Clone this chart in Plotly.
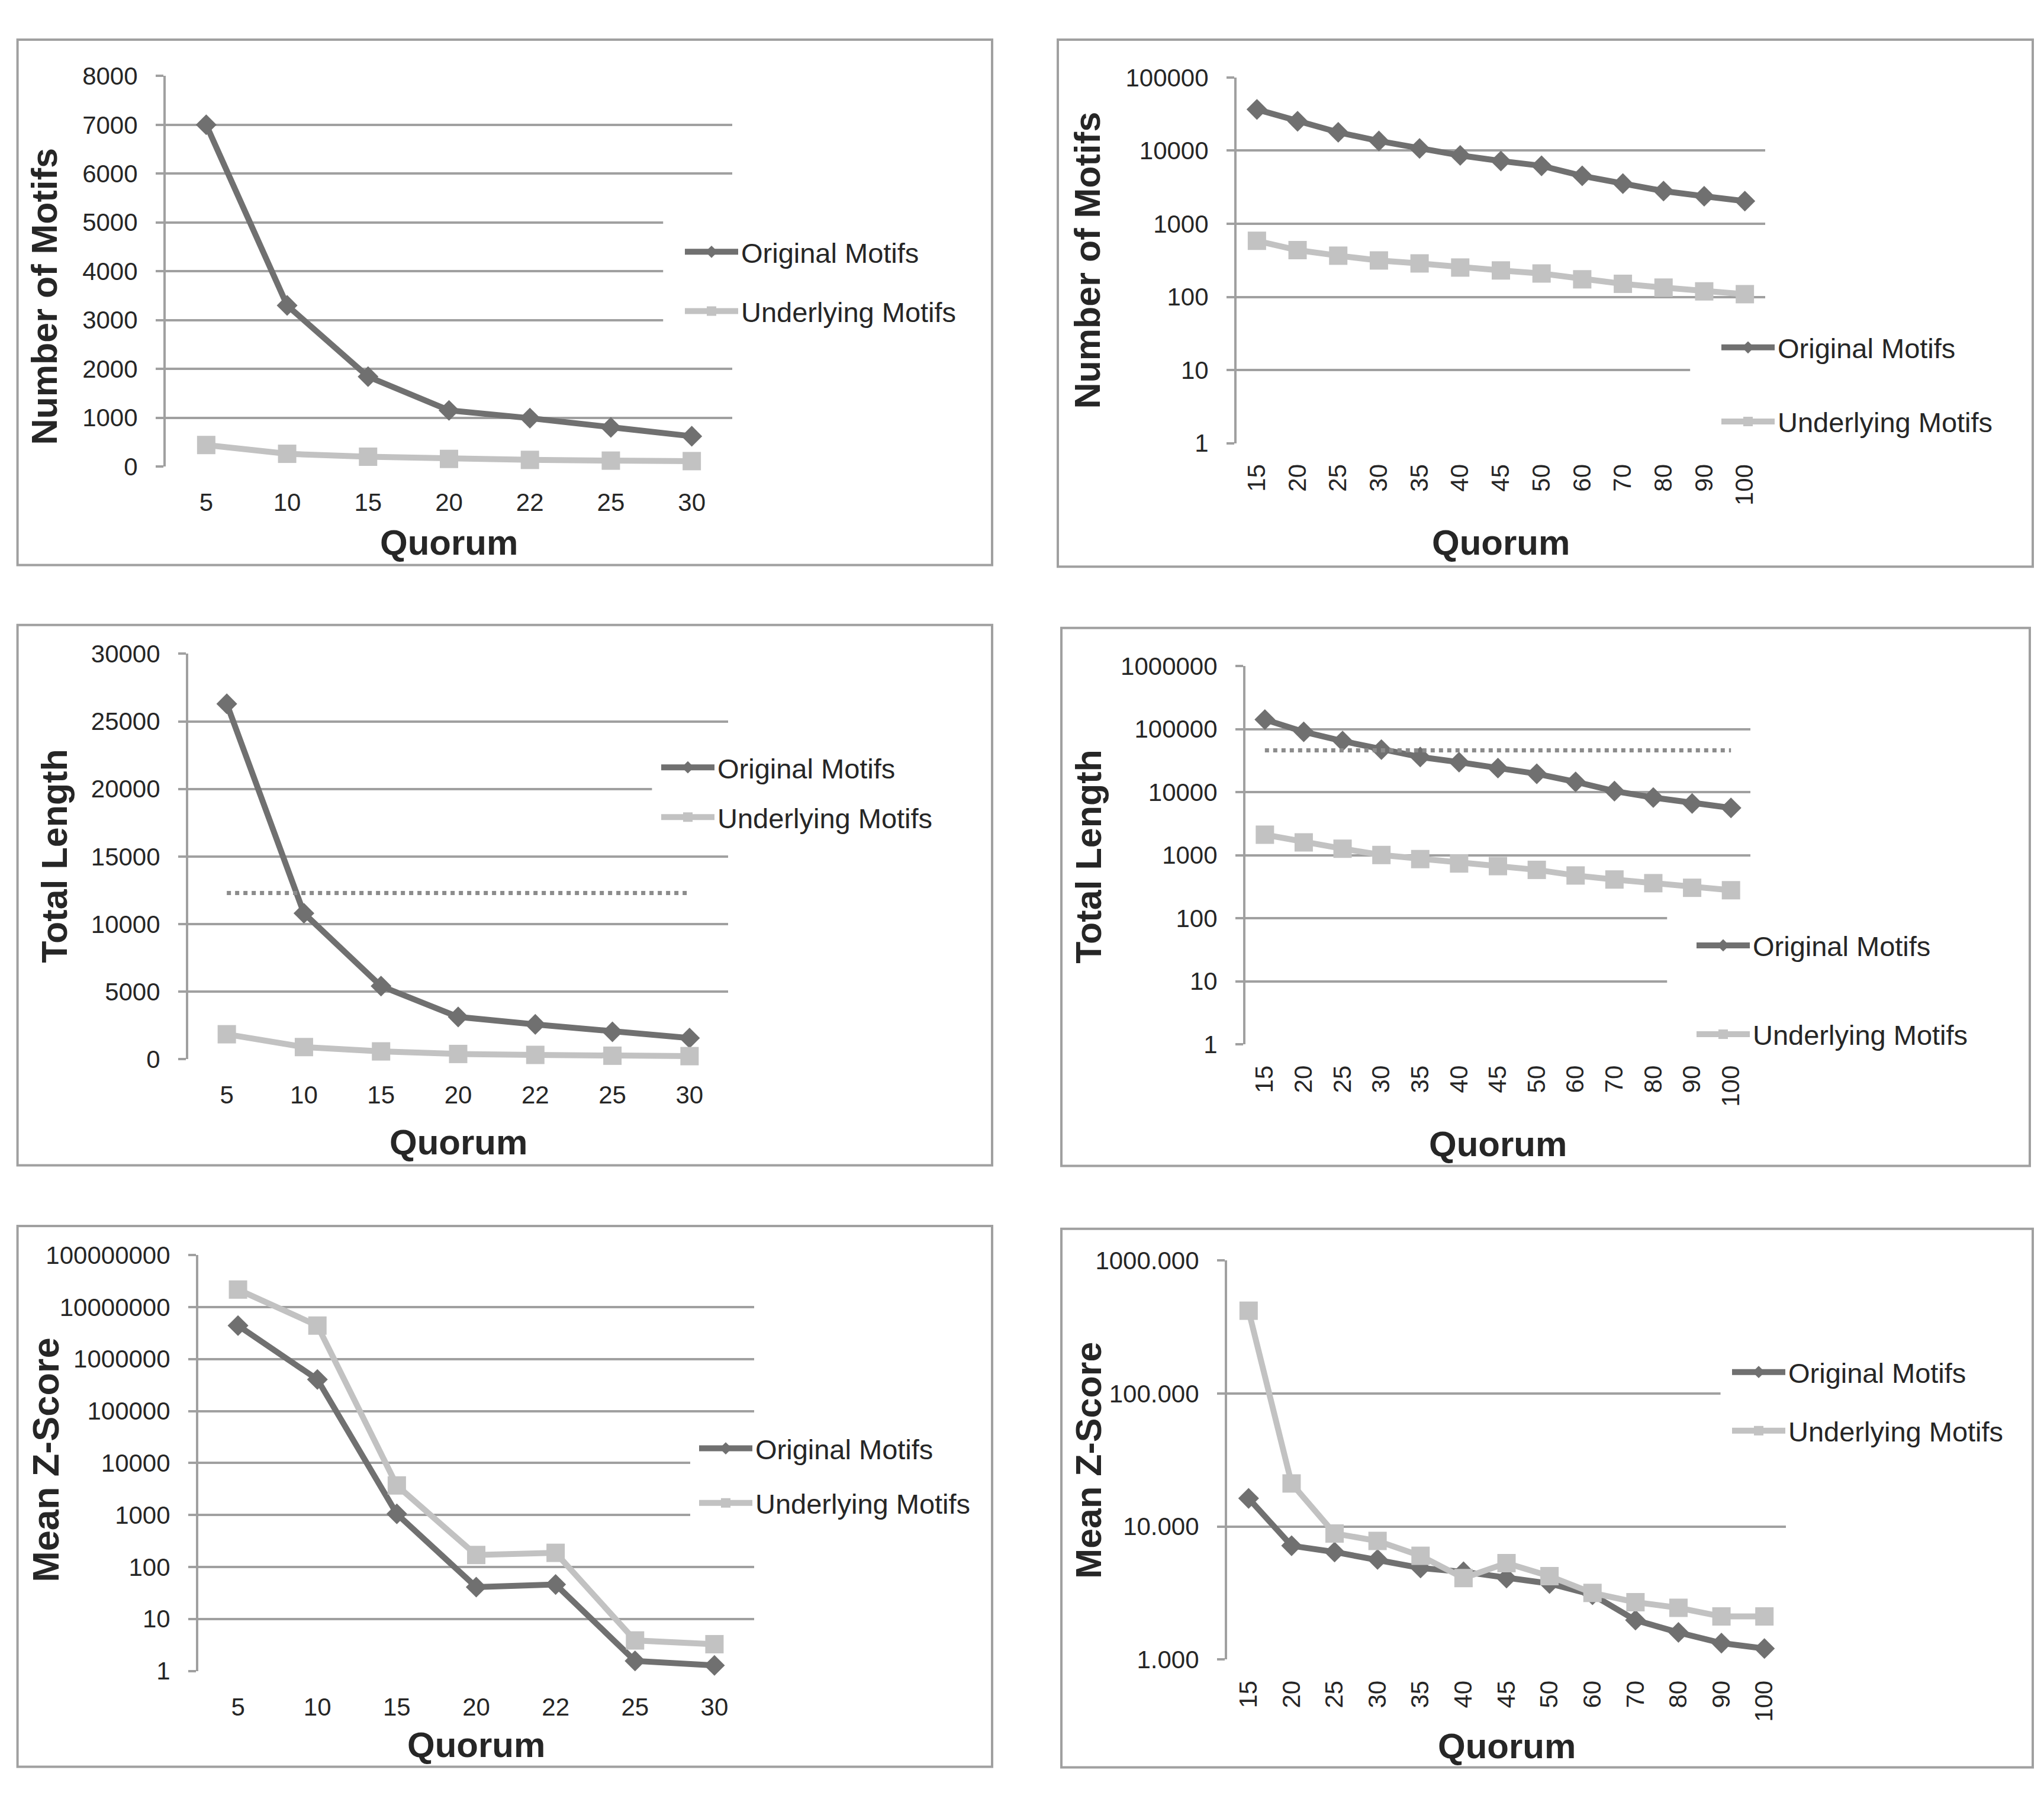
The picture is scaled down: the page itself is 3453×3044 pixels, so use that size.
import plotly.graph_objects as go

# ---------------- data ----------------
quorum_a = ["5", "10", "15", "20", "22", "25", "30"]
quorum_b = ["15", "20", "25", "30", "35", "40", "45", "50", "60", "70", "80", "90", "100"]

# Number of motifs
count_orig_a = [7000, 3300, 1840, 1150, 990, 800, 620]
count_under_a = [440, 260, 200, 155, 135, 120, 110]
count_orig_b = [36600, 25200, 17800, 13550, 10700, 8600, 7220, 6200, 4520, 3540, 2800, 2380, 2040]
count_under_b = [585, 436, 366, 315, 287, 252, 230, 209, 174, 151, 134, 119, 109]

# Total length
len_orig_a = [26300, 10800, 5410, 3130, 2580, 2030, 1565]
len_under_a = [1850, 900, 580, 390, 320, 260, 230]
len_ref_a = [12300, 12300, 12300, 12300, 12300, 12300, 12300]
len_orig_b = [142000, 90800, 64700, 47400, 36200, 29900, 24100, 19600, 14600, 10400, 8240, 6640, 5640]
len_under_b = [2120, 1600, 1270, 1010, 870, 741, 673, 587, 478, 413, 361, 305, 279]
len_ref_b = [46100] * 13

# Mean Z-score
z_orig_a = [4.4e6, 4.05e5, 1050, 41, 46, 1.56, 1.28]
z_under_a = [2.17e7, 4.4e6, 3700, 170, 187, 3.86, 3.27]
z_orig_b = [16.3, 7.18, 6.44, 5.66, 4.88, 4.57, 4.10, 3.73, 3.07, 1.98, 1.60, 1.33, 1.21]
z_under_b = [420, 21.1, 8.87, 7.80, 6.03, 4.10, 5.31, 4.24, 3.17, 2.70, 2.45, 2.11, 2.11]

# tick labels
ticks_count_a = [0, 1000, 2000, 3000, 4000, 5000, 6000, 7000, 8000]
ticks_count_b = [1, 10, 100, 1000, 10000, 100000]
ticks_len_a = [0, 5000, 10000, 15000, 20000, 25000, 30000]
ticks_len_b = [1, 10, 100, 1000, 10000, 100000, 1000000]
ticks_z_a = [1, 10, 100, 1000, 10000, 100000, 1000000, 10000000, 100000000]
ticks_z_b = [1, 10, 100, 1000]
ticktext_z_b = ["1.000", "10.000", "100.000", "1000.000"]

series_names = ["Original Motifs", "Underlying Motifs"]
y_titles = ["Number of Motifs", "Number of Motifs", "Total Length", "Total Length",
            "Mean Z-Score", "Mean Z-Score"]
x_title = "Quorum"

# ---------------- styling / layout ----------------
W, H = 3453, 3044
FONT = "Liberation Sans, Arial, sans-serif"
TXT = "#262626"
GRID = "#a0a0a0"
C_ORIG = "#707070"
C_UNDER = "#c2c2c2"
C_REF = "#8c8c8c"


def px_x(v):
    return v / W


def px_y(v):
    return 1 - v / H


# per-panel geometry in pixels
panels = [
    dict(cats=quorum_a, orig=count_orig_a, under=count_under_a, ref=None, log=False,
         yrange=[0, 8000], tickvals=ticks_count_a, ticktext=None,
         plot=(280, 1237, 107, 777), box=(29.6, 44.6, 1676, 946),
         leg=(1160, 405, 36), cut=(0.878, 0.3125, 0.6875),
         ytitle=(75, 485, 61), xtitle=(758, 908), rot=0),
    dict(cats=quorum_b, orig=count_orig_b, under=count_under_b, ref=None, log=True,
         yrange=[0, 5], tickvals=ticks_count_b, ticktext=None,
         plot=(2089, 2982, 109.6, 737), box=(1787, 44.6, 3434, 949),
         leg=(2911, 569, 61), cut=(0.858, 0.12, 0.28),
         ytitle=(1837, 423, 61), xtitle=(2535, 908), rot=-90),
    dict(cats=quorum_a, orig=len_orig_a, under=len_under_a, ref=len_ref_a, log=False,
         yrange=[0, 30000], tickvals=ticks_len_a, ticktext=None,
         plot=(318, 1230, 1098.4, 1794), box=(29.6, 1049, 1676, 1976),
         leg=(1120, 1289.5, 20), cut=(0.859, 0.62, 0.71),
         ytitle=(92, 1446, 61), xtitle=(774, 1936), rot=0),
    dict(cats=quorum_b, orig=len_orig_b, under=len_under_b, ref=len_ref_b, log=True,
         yrange=[0, 6], tickvals=ticks_len_b, ticktext=None,
         plot=(2104, 2957, 1119.5, 1768.6), box=(1793, 1054, 3429, 1977),
         leg=(2869, 1595, 86), cut=(0.835, 0.10, 0.37),
         ytitle=(1839, 1447, 61), xtitle=(2530, 1939), rot=-90),
    dict(cats=quorum_a, orig=z_orig_a, under=z_under_a, ref=None, log=True,
         yrange=[0, 8], tickvals=ticks_z_a, ticktext=None,
         plot=(335, 1274, 2130, 2843.5), box=(29.6, 2080, 1676, 3008),
         leg=(1184, 2458, 28), cut=(0.885, 0.33, 0.55),
         ytitle=(77, 2482, 63), xtitle=(804, 2970), rot=0),
    dict(cats=quorum_b, orig=z_orig_b, under=z_under_b, ref=None, log=True,
         yrange=[0, 3], tickvals=ticks_z_b, ticktext=ticktext_z_b,
         plot=(2073, 3017, 2139.5, 2824), box=(1793, 2085, 3434, 3009),
         leg=(2929, 2327, 35), cut=(0.883, 0.60, 0.72),
         ytitle=(1839, 2482, 61), xtitle=(2545, 2972), rot=-90),
]

fig = go.Figure()
shapes = []
annotations = []
layout = dict(width=W, height=H, margin=dict(l=0, r=0, t=0, b=0),
              paper_bgcolor="white", plot_bgcolor="rgba(0,0,0,0)",
              font=dict(family=FONT, color=TXT, size=42))

for i, p in enumerate(panels):
    n = i + 1
    xa = "x" if n == 1 else f"x{n}"
    ya = "y" if n == 1 else f"y{n}"
    lg = "legend" if n == 1 else f"legend{n}"
    x0, x1, yt, yb = p["plot"]

    fig.add_trace(go.Scatter(
        x=p["cats"], y=p["orig"], name=series_names[0], mode="lines+markers",
        line=dict(color=C_ORIG, width=10), marker=dict(symbol="diamond", size=27, color=C_ORIG),
        xaxis=xa, yaxis=ya, legend=lg, legendgroup=f"o{n}", cliponaxis=False))
    fig.add_trace(go.Scatter(
        x=p["cats"], y=p["under"], name=series_names[1], mode="lines+markers",
        line=dict(color=C_UNDER, width=10), marker=dict(symbol="square", size=31, color=C_UNDER),
        xaxis=xa, yaxis=ya, legend=lg, legendgroup=f"u{n}", cliponaxis=False))
    if p["ref"] is not None:
        fig.add_trace(go.Scatter(
            x=p["cats"], y=p["ref"], mode="lines", showlegend=False,
            line=dict(color=C_REF, width=7, dash="dot"), xaxis=xa, yaxis=ya, hoverinfo="skip"))

    ncat = len(p["cats"])
    layout["xaxis" if n == 1 else f"xaxis{n}"] = dict(
        domain=[px_x(x0), px_x(x1)], anchor=ya, type="category",
        range=[-0.5, ncat - 0.5], showgrid=False, showline=False, zeroline=False,
        ticks="", tickangle=p["rot"], tickfont=dict(size=42, color=TXT, family=FONT),
        ticklabelstandoff=32 if p["rot"] == 0 else 26, fixedrange=True)
    yax = dict(
        domain=[px_y(yb), px_y(yt)], anchor=xa,
        type="log" if p["log"] else "linear", range=p["yrange"],
        tickvals=p["tickvals"], showgrid=True, gridcolor=GRID, gridwidth=4,
        showline=True, linecolor=GRID, linewidth=4, zeroline=False,
        ticks="outside", ticklen=13, tickwidth=4, tickcolor=GRID,
        tickfont=dict(size=42, color=TXT, family=FONT), ticklabelstandoff=22,
        fixedrange=True)
    if p["ticktext"] is not None:
        yax["ticktext"] = p["ticktext"]
    else:
        yax["tickformat"] = "d"
    layout["yaxis" if n == 1 else f"yaxis{n}"] = yax

    lx, ly, gap = p["leg"]
    layout[lg] = dict(x=px_x(lx - 8), y=px_y(ly - 34), xanchor="left", yanchor="top",
                      bgcolor="rgba(0,0,0,0)", borderwidth=0, traceorder="grouped",
                      tracegroupgap=gap, itemwidth=90,
                      font=dict(size=47, color=TXT, family=FONT))

    # gridline gap where the legend sits (Excel style)
    cx, cy0, cy1 = p["cut"]
    shapes.append(dict(type="rect", xref=f"{xa} domain", yref=f"{ya} domain",
                       x0=cx, x1=1.02, y0=cy0, y1=cy1, fillcolor="white",
                       line=dict(width=0), layer="above"))
    bx0, by0, bx1, by1 = p["box"]
    shapes.append(dict(type="rect", xref="paper", yref="paper",
                       x0=px_x(bx0), x1=px_x(bx1), y0=px_y(by1), y1=px_y(by0),
                       line=dict(color=GRID, width=4), fillcolor="rgba(0,0,0,0)", layer="below"))

    tx, ty, tsize = p["ytitle"]
    annotations.append(dict(text=f"<b>{y_titles[i]}</b>", xref="paper", yref="paper",
                            x=px_x(tx), y=px_y(ty), xanchor="center", yanchor="middle",
                            textangle=-90, showarrow=False,
                            font=dict(size=tsize, color=TXT, family=FONT)))
    qx, qy = p["xtitle"]
    annotations.append(dict(text=f"<b>{x_title}</b>", xref="paper", yref="paper",
                            x=px_x(qx), y=px_y(qy), xanchor="center", yanchor="middle",
                            showarrow=False, font=dict(size=60, color=TXT, family=FONT)))

layout["shapes"] = shapes
layout["annotations"] = annotations
fig.update_layout(**layout)
fig.write_html("out.html", config={"displayModeBar": False},
               post_script="document.body.style.margin='0px';")
